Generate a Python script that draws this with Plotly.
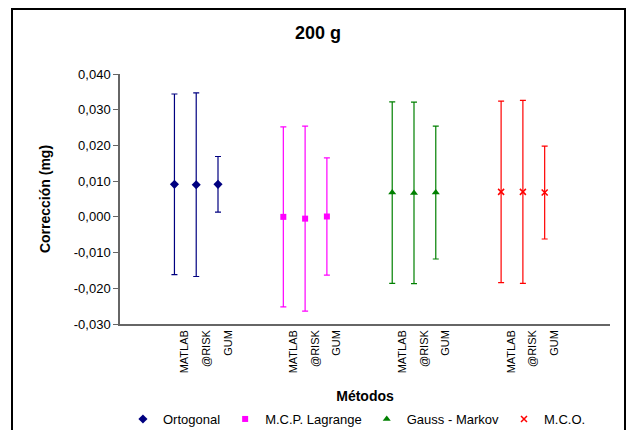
import plotly.graph_objects as go

# ---- data ----
methods = ["MATLAB", "@RISK", "GUM"]
series_names = ["Ortogonal", "M.C.P. Lagrange", "Gauss - Markov", "M.C.O."]
values = {
    "Ortogonal":       [0.0091, 0.0090, 0.0091],
    "M.C.P. Lagrange": [0.0000, -0.0005, 0.0001],
    "Gauss - Markov":  [0.0068, 0.0067, 0.0068],
    "M.C.O.":          [0.0070, 0.0070, 0.0068],
}
uncert = {
    "Ortogonal":       [0.0253, 0.0257, 0.0078],
    "M.C.P. Lagrange": [0.0252, 0.0259, 0.0164],
    "Gauss - Markov":  [0.0254, 0.0254, 0.0186],
    "M.C.O.":          [0.0254, 0.0256, 0.0130],
}
y_tickvals = [0.040, 0.030, 0.020, 0.010, 0.000, -0.010, -0.020, -0.030]
y_ticktext = ["0,040", "0,030", "0,020", "0,010", "0,000", "-0,010", "-0,020", "-0,030"]

colors = ["#000080", "#FF00FF", "#008000", "#FF0000"]
symbols = ["diamond", "square", "triangle-up", "x-thin-open"]
sizes = [7, 6, 7, 6]
line_w = [0, 0, 0, 1.5]

FONT = "Liberation Sans, Arial, sans-serif"

fig = go.Figure()
tickvals, ticktext = [], []
for g, name in enumerate(series_names):
    xs = [2 + 5 * g + k for k in range(len(methods))]
    tickvals += [x + 0.46 for x in xs]
    ticktext += methods
    fig.add_trace(go.Scatter(
        x=xs, y=values[name], name=name, mode="markers",
        marker=dict(symbol=symbols[g], size=sizes[g], color=colors[g],
                    line=dict(color=colors[g], width=line_w[g])),
        error_y=dict(type="data", array=uncert[name], visible=True,
                     color=colors[g], thickness=1.2, width=3),
    ))

fig.update_layout(
    width=627, height=430,
    margin=dict(l=120, r=17, t=74, b=106, autoexpand=False),
    paper_bgcolor="white", plot_bgcolor="white",
    separators=",.",
    font=dict(family=FONT, size=11, color="black"),
    title=dict(text="200 g", x=318 / 627, xanchor="center", y=1 - 33 / 430, yanchor="middle",
               xref="container", yref="container",
               font=dict(family=FONT, size=18, weight="bold", color="black")),
    showlegend=True,
    legend=dict(orientation="h", x=0.006, xanchor="left", y=(324 - 419) / 250,
                yanchor="middle",
                font=dict(family=FONT, size=13), itemwidth=30,
                bgcolor="rgba(0,0,0,0)"),
    xaxis=dict(range=[-0.5, 22.0], tickmode="array", tickvals=tickvals, ticktext=ticktext,
               tickangle=-90, showgrid=False, zeroline=False, showline=True,
               linecolor="#666666", linewidth=1.5, ticks="", automargin=False,
               tickfont=dict(family=FONT, size=11),
               title=dict(text="Métodos", standoff=19,
                          font=dict(family=FONT, size=14, weight="bold"))),
    yaxis=dict(range=[-0.030, 0.040], tickmode="array", tickvals=y_tickvals,
               ticktext=y_ticktext, showgrid=False, zeroline=False, showline=True,
               linecolor="#666666", linewidth=1.5, ticks="outside", ticklen=5,
               automargin=False,
               tickcolor="#666666", tickfont=dict(family=FONT, size=13),
               title=dict(text="Corrección (mg)", standoff=20,
                          font=dict(family=FONT, size=14, weight="bold"))),
)

# outer chart border
fig.add_shape(type="rect", xref="paper", yref="paper",
              x0=(12 - 120) / 490, x1=(625 - 120) / 490,
              y0=(324 - 440) / 250, y1=(324 - 9) / 250,
              line=dict(color="black", width=2), fillcolor="rgba(0,0,0,0)", layer="below")

fig.write_html("out.html")
